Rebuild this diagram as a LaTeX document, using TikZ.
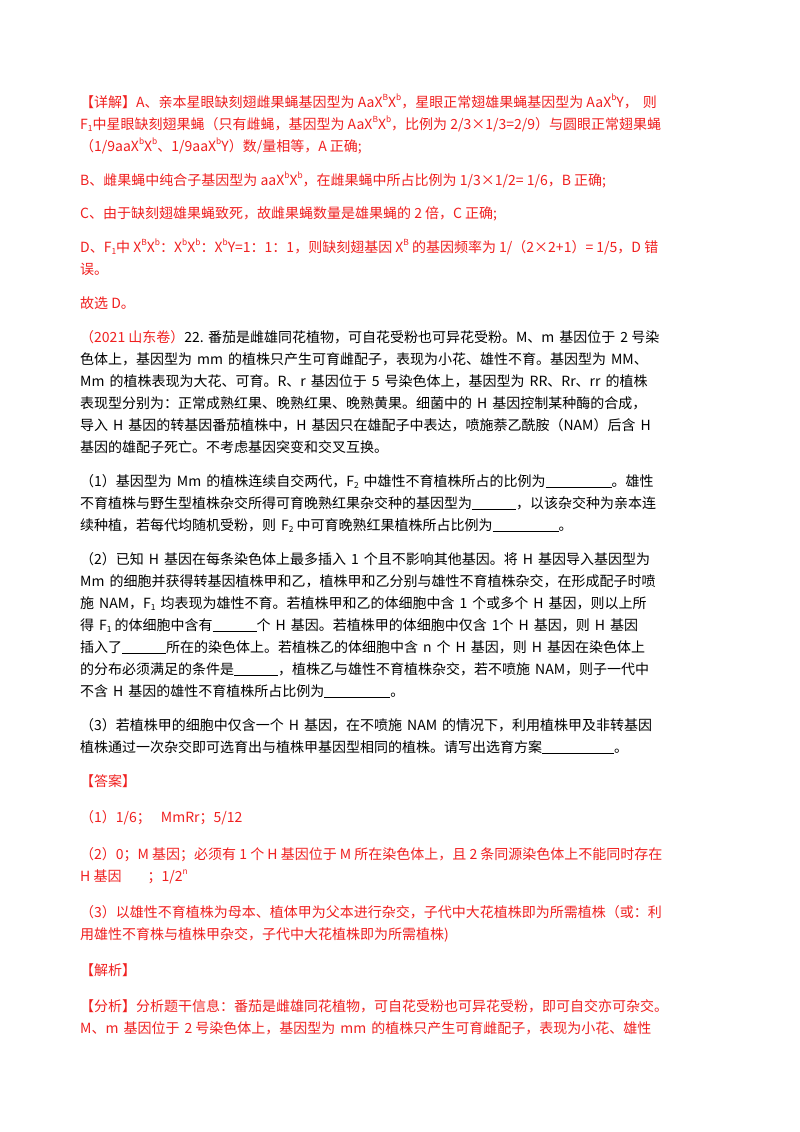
\documentclass[tikz,border=0pt]{standalone}
\usepackage{fontspec}
\setmainfont{Noto Sans CJK SC}
\definecolor{rd}{HTML}{F02020}
\newcommand{\sps}[1]{\raisebox{0.45em}{\scalebox{0.6}{#1}}}
\newcommand{\sbs}[1]{\raisebox{-0.15em}{\scalebox{0.6}{#1}}}
\newcommand{\bl}[1]{\underline{\hspace{#1pt}}}
\newcommand{\s}{\hspace{5pt}}
\begin{document}
\begin{tikzpicture}[x=1pt,y=-1pt,
  ln/.style={anchor=base west,inner sep=0pt,font=\fontsize{14}{16}\selectfont},
  r/.style={ln,text=rd}, k/.style={ln,text=black}]
\useasboundingbox (0,0) rectangle (800,1132);
\fill[white] (0,0) rectangle (800,1132);
\node[r] (l1) at (80,107) {【详解】A、亲本星眼缺刻翅雌果蝇基因型为 AaX\sps{B}X\sps{b}，星眼正常翅雄果蝇基因型为 AaX\sps{b}Y，\s 则};
\node[r] (l2) at (80,129) {F\sbs{1}中星眼缺刻翅果蝇（只有雌蝇，基因型为 AaX\sps{B}X\sps{b}，比例为 2/3×1/3=2/9）与圆眼正常翅果蝇};
\node[r] (l3) at (80,151) {（1/9aaX\sps{b}X\sps{b}、1/9aaX\sps{b}Y）数/量相等，A 正确;};
\node[r] (l4) at (80,185) {B、雌果蝇中纯合子基因型为 aaX\sps{b}X\sps{b}，在雌果蝇中所占比例为 1/3×1/2= 1/6，B 正确;};
\node[r] (l5) at (80,218) {C、由于缺刻翅雄果蝇致死，故雌果蝇数量是雄果蝇的 2 倍，C 正确;};
\node[r] (l6) at (80,252) {D、F\sbs{1}中 X\sps{B}X\sps{b}：X\sps{b}X\sps{b}：X\sps{b}Y=1：1：1，则缺刻翅基因 X\sps{B} 的基因频率为 1/（2×2+1）= 1/5，D 错};
\node[r] (l7) at (80,274) {误。};
\node[r] (l8) at (80,308) {故选 D。};
\node[k] (l9) at (80,342) {\textcolor{rd}{（2021 山东卷）}22. 番茄是雌雄同花植物，可自花受粉也可异花受粉。M、m\s 基因位于\s 2 号染};
\node[k] (l10) at (80,364) {色体上，基因型为\s mm\s 的植株只产生可育雌配子，表现为小花、雄性不育。基因型为\s MM、};
\node[k] (l11) at (80,386) {Mm\s 的植株表现为大花、可育。R、r\s 基因位于\s 5\s 号染色体上，基因型为\s RR、Rr、rr\s 的植株};
\node[k] (l12) at (80,408) {表现型分别为：正常成熟红果、晚熟红果、晚熟黄果。细菌中的\s H\s 基因控制某种酶的合成，};
\node[k] (l13) at (80,430) {导入\s H\s 基因的转基因番茄植株中，H\s 基因只在雄配子中表达，喷施萘乙酰胺（NAM）后含\s H};
\node[k] (l14) at (80,452) {基因的雄配子死亡。不考虑基因突变和交叉互换。};
\node[k] (l15) at (80,486) {（1）基因型为\s Mm\s 的植株连续自交两代，F\sbs{2}\s 中雄性不育植株所占的比例为\bl{66}。雄性};
\node[k] (l16) at (80,508) {不育植株与野生型植株杂交所得可育晚熟红果杂交种的基因型为\bl{44}，以该杂交种为亲本连};
\node[k] (l17) at (80,530) {续种植，若每代均随机受粉，则\s F\sbs{2} 中可育晚熟红果植株所占比例为\bl{66}。};
\node[k] (l18) at (80,564) {（2）已知\s H\s 基因在每条染色体上最多插入\s 1\s 个且不影响其他基因。将\s H\s 基因导入基因型为};
\node[k] (l19) at (80,586) {Mm\s 的细胞并获得转基因植株甲和乙，植株甲和乙分别与雄性不育植株杂交，在形成配子时喷};
\node[k] (l20) at (80,608) {施\s NAM，F\sbs{1}\s 均表现为雄性不育。若植株甲和乙的体细胞中含\s 1\s 个或多个\s H\s 基因，则以上所};
\node[k] (l21) at (80,630) {得\s F\sbs{1} 的体细胞中含有\bl{44}个\s H\s 基因。若植株甲的体细胞中仅含\s 1个\s H\s 基因，则\s H\s 基因};
\node[k] (l22) at (80,652) {插入了\bl{44}所在的染色体上。若植株乙的体细胞中含\s n\s 个\s H\s 基因，则\s H\s 基因在染色体上};
\node[k] (l23) at (80,674) {的分布必须满足的条件是\bl{44}，植株乙与雄性不育植株杂交，若不喷施\s NAM，则子一代中};
\node[k] (l24) at (80,696) {不含\s H\s 基因的雄性不育植株所占比例为\bl{66}。};
\node[k] (l25) at (80,730) {（3）若植株甲的细胞中仅含一个\s H\s 基因，在不喷施\s NAM\s 的情况下，利用植株甲及非转基因};
\node[k] (l26) at (80,752) {植株通过一次杂交即可选育出与植株甲基因型相同的植株。请写出选育方案\bl{72}。};
\node[r] (l27) at (80,786) {【答案】};
\node[r] (l28) at (80,822) {（1）1/6；\s\s MmRr；5/12};
\node[r] (l29) at (80,859) {（2）0；M 基因；必须有 1 个 H 基因位于 M 所在染色体上，且 2 条同源染色体上不能同时存在};
\node[r] (l30) at (80,881) {H 基因\hspace{26pt}；1/2\sps{n}};
\node[r] (l31) at (80,917) {（3）以雄性不育植株为母本、植体甲为父本进行杂交，子代中大花植株即为所需植株（或：利};
\node[r] (l32) at (80,939) {用雄性不育株与植株甲杂交，子代中大花植株即为所需植株)};
\node[r] (l33) at (80,975) {【解析】};
\node[r] (l34) at (80,1011) {【分析】分析题干信息：番茄是雌雄同花植物，可自花受粉也可异花受粉，即可自交亦可杂交。};
\node[r] (l35) at (80,1033) {M、m\s 基因位于\s 2 号染色体上，基因型为\s mm\s 的植株只产生可育雌配子，表现为小花、雄性};
\end{tikzpicture}
\end{document}
